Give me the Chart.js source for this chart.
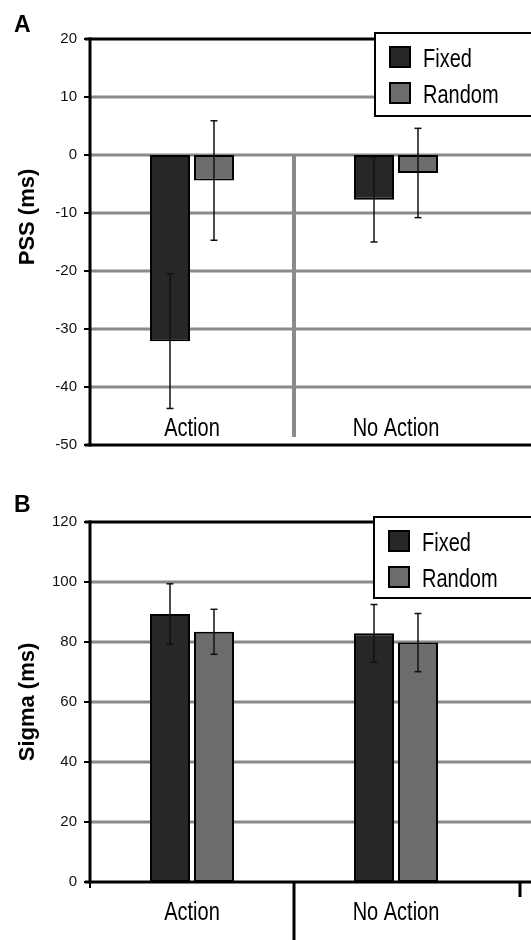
<!DOCTYPE html>
<html>
<head>
<meta charset="utf-8">
<script src="https://cdn.jsdelivr.net/npm/chart.js@4"></script>
<style>
body { margin: 0; background: #fff; width: 531px; height: 940px; overflow: hidden; }
canvas { display: block; }
</style>
</head>
<body>
<canvas id="chartA" width="531" height="470"></canvas>
<canvas id="chartB" width="531" height="470"></canvas>
<script>
var categories = ["Action", "No Action"];
var seriesNames = ["Fixed", "Random"];
var seriesColors = ["#272727", "#6c6c6c"];

// panel A: PSS (ms)
var pssFixed = [-32.1, -7.7];
var pssRandom = [-4.4, -3.1];
var pssFixedErr = [11.6, 7.3];
var pssRandomErr = [10.3, 7.7];
var pssTicks = [20, 10, 0, -10, -20, -30, -40, -50];

// panel B: Sigma (ms)
var sigmaFixed = [89.3, 82.9];
var sigmaRandom = [83.4, 79.8];
var sigmaFixedErr = [10.1, 9.6];
var sigmaRandomErr = [7.5, 9.7];
var sigmaTicks = [120, 100, 80, 60, 40, 20, 0];

var plain = "'Liberation Sans', Arial, sans-serif";
var gridGray = "#8a8a8a";

function line(ctx, x1, y1, x2, y2, color, w) {
  ctx.save();
  ctx.strokeStyle = color;
  ctx.lineWidth = w;
  ctx.beginPath();
  ctx.moveTo(x1, y1);
  ctx.lineTo(x2, y2);
  ctx.stroke();
  ctx.restore();
}

// condensed text, like the narrow face of the original
function narrowText(ctx, text, x, y, align) {
  ctx.save();
  ctx.translate(x, y);
  ctx.scale(0.8, 1);
  ctx.font = "25px " + plain;
  ctx.fillStyle = "#000";
  ctx.textAlign = align;
  ctx.textBaseline = "alphabetic";
  ctx.fillText(text, 0, 0);
  ctx.restore();
}

function makePanel(canvas, cfg) {
  var yMin = Math.min.apply(null, cfg.ticks);
  var yMax = Math.max.apply(null, cfg.ticks);
  var isB = cfg.letter === "B";

  var decor = {
    id: "decor",
    beforeDatasetsDraw: function (chart) {
      var ctx = chart.ctx, y = chart.scales.y, x = chart.scales.x, area = chart.chartArea;
      // gray grid lines running off the right edge
      y.ticks.forEach(function (t) {
        if (t.value === yMin || t.value === yMax) return;
        var py = y.getPixelForValue(t.value);
        line(ctx, area.left, py, chart.width, py, gridGray, 3);
      });
      if (!isB) {
        var mid = (x.getPixelForTick(0) + x.getPixelForTick(1)) / 2;
        line(ctx, mid, y.getPixelForValue(0), mid, area.bottom - 8, gridGray, 4);
      }
    },
    afterDatasetsDraw: function (chart) {
      var ctx = chart.ctx, y = chart.scales.y, x = chart.scales.x, area = chart.chartArea;
      // error bars
      chart.data.datasets.forEach(function (ds, d) {
        var meta = chart.getDatasetMeta(d);
        meta.data.forEach(function (bar, i) {
          var v = ds.data[i], e = ds.errors[i];
          var y1 = y.getPixelForValue(v + e), y2 = y.getPixelForValue(v - e);
          line(ctx, bar.x, y1, bar.x, y2, "#111", 1.5);
          line(ctx, bar.x - 3.5, y1, bar.x + 3.5, y1, "#111", 1.5);
          line(ctx, bar.x - 3.5, y2, bar.x + 3.5, y2, "#111", 1.5);
        });
      });
      // black frame: top, bottom, left axis + tick marks
      var top = y.getPixelForValue(yMax), bot = y.getPixelForValue(yMin);
      line(ctx, area.left - 5, top, chart.width, top, "#000", 3);
      line(ctx, area.left - 5, bot, chart.width, bot, "#000", 3);
      line(ctx, area.left, top - 1.5, area.left, bot + 1.5, "#000", 3);
      y.ticks.forEach(function (t) {
        var py = y.getPixelForValue(t.value);
        line(ctx, area.left - 6, py, area.left, py, "#000", 2);
      });
      if (isB) {
        var mid = (x.getPixelForTick(0) + x.getPixelForTick(1)) / 2;
        line(ctx, mid, bot, mid, chart.height, "#000", 3);
        line(ctx, area.left, bot, area.left, bot + 6, "#000", 2);
        line(ctx, area.right + 22, bot, area.right + 22, bot + 15, "#000", 3);
      }
    },
    afterDraw: function (chart) {
      var ctx = chart.ctx, x = chart.scales.x;
      ctx.save();
      // legend box
      var L = cfg.legend;
      ctx.fillStyle = "#fff";
      ctx.fillRect(L.x, L.y, chart.width - L.x + 5, L.h);
      ctx.strokeStyle = "#000";
      ctx.lineWidth = 2;
      ctx.strokeRect(L.x, L.y, chart.width - L.x + 5, L.h);
      chart.data.datasets.forEach(function (ds, d) {
        var sy = L.y + 14 + d * 36;
        ctx.fillStyle = ds.backgroundColor;
        ctx.fillRect(L.x + 15, sy, 20, 20);
        ctx.strokeRect(L.x + 15, sy, 20, 20);
        narrowText(ctx, ds.label, L.x + 48, sy + 19.5, "left");
      });
      // panel letter
      ctx.fillStyle = "#000";
      ctx.font = "bold 23px " + plain;
      ctx.textBaseline = "alphabetic";
      ctx.fillText(cfg.letter, 14, cfg.letterY);
      // y title
      ctx.save();
      ctx.translate(28, cfg.titleY);
      ctx.rotate(-Math.PI / 2);
      ctx.font = "bold 22px " + plain;
      ctx.textAlign = "center";
      ctx.textBaseline = "middle";
      ctx.fillText(cfg.title, 0, 0);
      ctx.restore();
      // category labels
      categories.forEach(function (c, i) {
        narrowText(ctx, c, x.getPixelForTick(i), cfg.labelY, "center");
      });
      ctx.restore();
    }
  };

  return new Chart(canvas, {
    type: "bar",
    data: {
      labels: categories,
      datasets: [
        { label: seriesNames[0], data: cfg.fixed, errors: cfg.fixedErr, backgroundColor: seriesColors[0] },
        { label: seriesNames[1], data: cfg.random, errors: cfg.randomErr, backgroundColor: seriesColors[1] }
      ]
    },
    options: {
      responsive: false,
      animation: false,
      devicePixelRatio: 1,
      layout: { padding: cfg.padding },
      datasets: {
        bar: {
          borderColor: "#000",
          borderWidth: 2,
          borderSkipped: false,
          categoryPercentage: 0.431,
          barPercentage: 0.91
        }
      },
      plugins: { legend: { display: false }, tooltip: { enabled: false } },
      scales: {
        x: { display: false },
        y: {
          min: yMin,
          max: yMax,
          afterFit: function (s) { s.width = 90; },
          afterBuildTicks: function (s) {
            s.ticks = cfg.ticks.map(function (v) { return { value: v }; });
          },
          grid: { display: false },
          border: { display: false },
          ticks: { color: "#111", padding: 5, font: { family: plain, size: 15 } }
        }
      }
    },
    plugins: [decor]
  });
}

makePanel(document.getElementById("chartA"), {
  letter: "A", letterY: 32, title: "PSS (ms)", titleY: 217, labelY: 436,
  fixed: pssFixed, random: pssRandom, fixedErr: pssFixedErr, randomErr: pssRandomErr,
  ticks: pssTicks,
  padding: { top: 39, right: 33, bottom: 25, left: 0 },
  legend: { x: 375, y: 33, h: 83 }
});

makePanel(document.getElementById("chartB"), {
  letter: "B", letterY: 42, title: "Sigma (ms)", titleY: 232, labelY: 450,
  fixed: sigmaFixed, random: sigmaRandom, fixedErr: sigmaFixedErr, randomErr: sigmaRandomErr,
  ticks: sigmaTicks,
  padding: { top: 52, right: 33, bottom: 58, left: 0 },
  legend: { x: 374, y: 47, h: 81 }
});
</script>
</body>
</html>
